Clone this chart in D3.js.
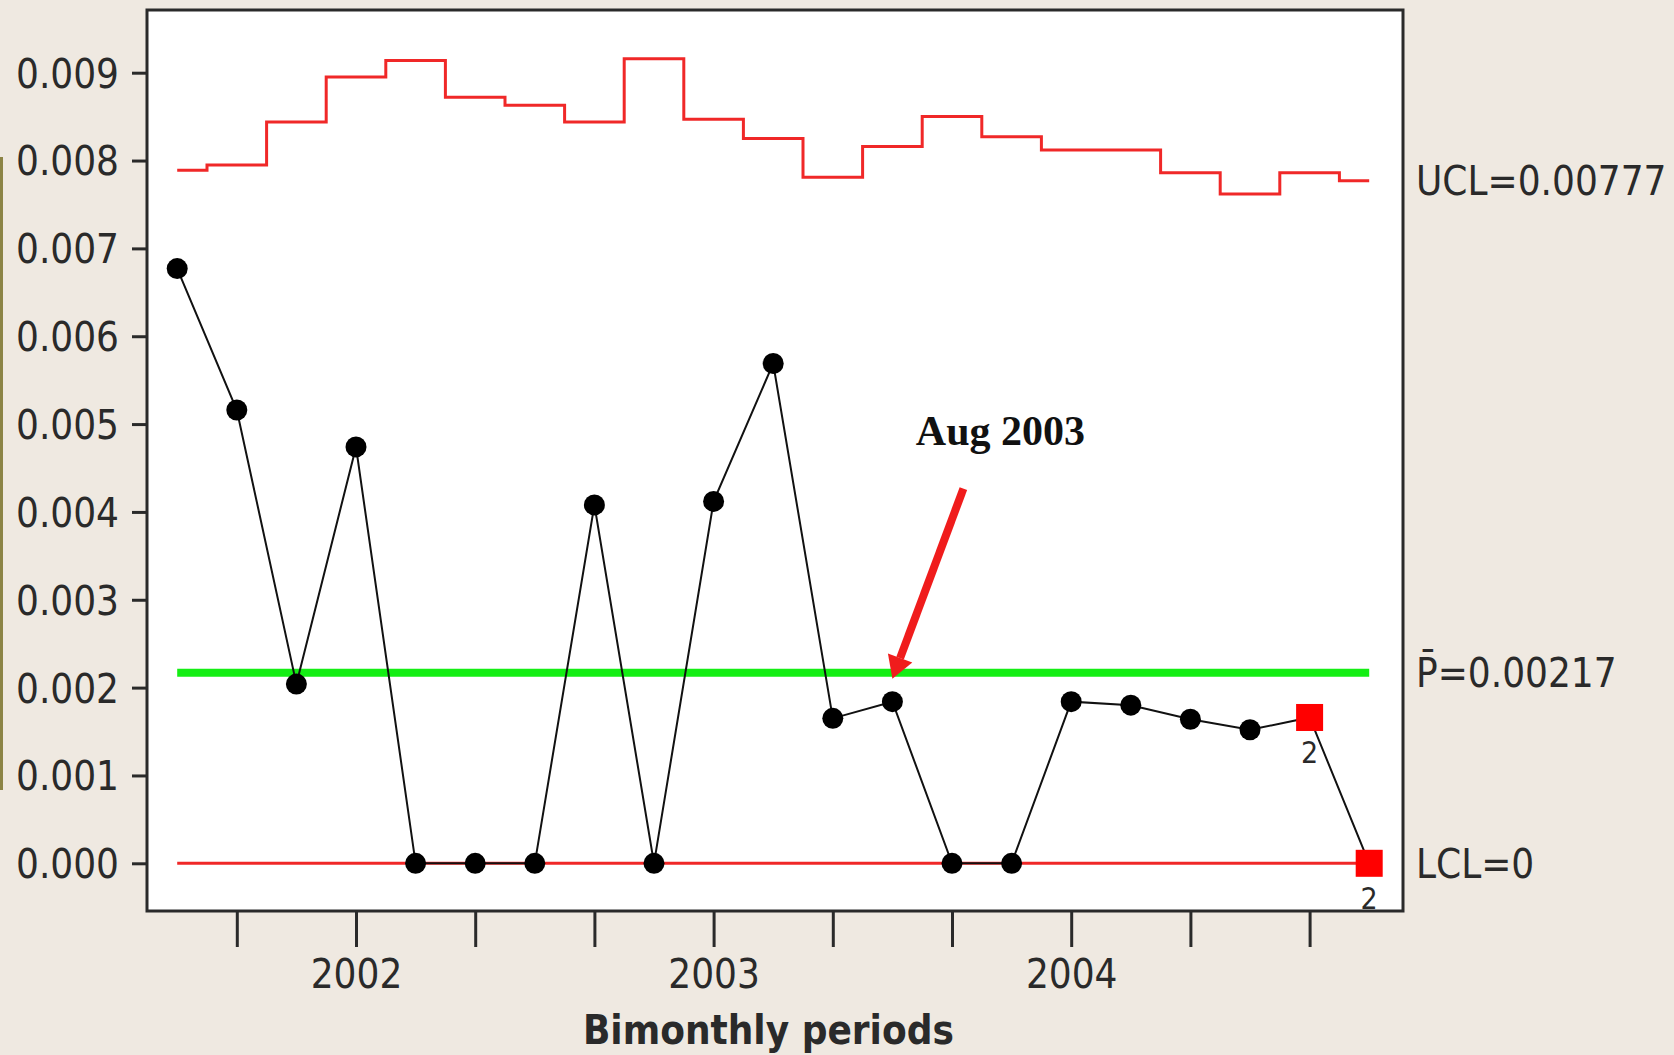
<!DOCTYPE html>
<html>
<head>
<meta charset="utf-8">
<script src="https://cdn.jsdelivr.net/npm/d3@7"></script>
<style>
  html, body { margin: 0; padding: 0; background: #efe9e1; }
  svg { display: block; }
  .lab { font-family: "DejaVu Sans Condensed", "DejaVu Sans", "Liberation Sans", sans-serif; fill: #2a2a2a; }
</style>
</head>
<body>
<script>
// ---- data ----
const periodIndex = d3.range(21);               // bimonthly periods, Jul 2001 .. Jul 2004
const proportion = [0.00677, 0.00516, 0.00204, 0.00474, 0, 0, 0, 0.00408, 0, 0.00412,
                    0.00569, 0.00165, 0.00184, 0, 0, 0.00184, 0.00180, 0.00164, 0.00152, 0.00166, 0];
const ucl = [0.00789, 0.00795, 0.00844, 0.00895, 0.00914, 0.00872, 0.00863, 0.00844, 0.00916, 0.00847,
             0.00825, 0.00781, 0.00816, 0.00850, 0.00827, 0.00812, 0.00812, 0.00786, 0.00762, 0.00786, 0.00777];
const pBar = 0.00217;
const lcl = 0;
const flagged = [19, 20];           // points failing test 2
const flagTest = ["2", "2"];
const yTicks = [0, 0.001, 0.002, 0.003, 0.004, 0.005, 0.006, 0.007, 0.008, 0.009];
const xTicks = [1, 3, 5, 7, 9, 11, 13, 15, 17, 19];
const xTickLabels = {3: "2002", 9: "2003", 15: "2004"};
const refLabels = ["UCL=0.00777", "P\u0304=0.00217", "LCL=0"];
const annotation = {text: "Aug 2003", index: 12};

// ---- layout ----
const W = 1674, H = 1055;
const frame = {left: 147, right: 1403, top: 10, bottom: 911};
const svg = d3.select("body").append("svg").attr("width", W).attr("height", H);

svg.append("rect").attr("width", W).attr("height", H).attr("fill", "#efe9e1");
// slide edge accent
svg.append("rect").attr("x", 0).attr("y", 157).attr("width", 3).attr("height", 633).attr("fill", "#8c8446");

const x = d3.scaleLinear().domain([0, 20]).range([177.2, 1369.2]);
const y = d3.scaleLinear().domain([0, 0.009]).range([863.3, 72.7]);

svg.append("rect")
  .attr("x", frame.left).attr("y", frame.top)
  .attr("width", frame.right - frame.left).attr("height", frame.bottom - frame.top)
  .attr("fill", "#ffffff").attr("stroke", "#2a2a2a").attr("stroke-width", 3);

// y axis
const yAxis = svg.append("g").attr("transform", `translate(${frame.left},0)`)
  .call(d3.axisLeft(y).tickValues(yTicks).tickFormat(d3.format(".3f")).tickSize(15).tickPadding(13).tickSizeOuter(0));
yAxis.select(".domain").remove();
yAxis.selectAll(".tick line").attr("stroke", "#2a2a2a").attr("stroke-width", 3);
yAxis.selectAll(".tick text").attr("class", "lab").attr("font-size", 40).attr("dy", "0.36em");

// x axis
const xAxis = svg.append("g").attr("transform", `translate(0,${frame.bottom})`)
  .call(d3.axisBottom(x).tickValues(xTicks).tickFormat(d => xTickLabels[d] || "").tickSize(36).tickPadding(13).tickSizeOuter(0));
xAxis.select(".domain").remove();
xAxis.selectAll(".tick line").attr("stroke", "#2a2a2a").attr("stroke-width", 3);
xAxis.selectAll(".tick text").attr("class", "lab").attr("font-size", 40);

svg.append("text").attr("class", "lab")
  .attr("x", (x(9) + x(10)) / 2 + 25).attr("y", 1044)
  .attr("text-anchor", "middle").attr("font-size", 40).attr("font-weight", "bold")
  .attr("fill", "#111").text("Bimonthly periods");

// UCL step line
svg.append("path").datum(ucl)
  .attr("d", d3.line().x((d, i) => x(i)).y(d => y(d)).curve(d3.curveStep))
  .attr("fill", "none").attr("stroke", "#f02828").attr("stroke-width", 3);

// LCL
svg.append("line").attr("x1", x(0)).attr("x2", x(20)).attr("y1", y(lcl)).attr("y2", y(lcl))
  .attr("stroke", "#f02828").attr("stroke-width", 3);

// center line
svg.append("line").attr("x1", x(0)).attr("x2", x(20)).attr("y1", y(pBar)).attr("y2", y(pBar))
  .attr("stroke", "#14ee14").attr("stroke-width", 8);

// data line
svg.append("path").datum(proportion)
  .attr("d", d3.line().x((d, i) => x(i)).y(d => y(d)))
  .attr("fill", "none").attr("stroke", "#111").attr("stroke-width", 2);

// markers
svg.append("g").selectAll("circle")
  .data(periodIndex.filter(i => !flagged.includes(i)))
  .join("circle")
  .attr("cx", i => x(i)).attr("cy", i => y(proportion[i])).attr("r", 10.5).attr("fill", "#000");

const sq = 27;
svg.append("g").selectAll("rect")
  .data(flagged).join("rect")
  .attr("x", i => x(i) - sq / 2).attr("y", i => y(proportion[i]) - sq / 2)
  .attr("width", sq).attr("height", sq).attr("fill", "#ff0000");
svg.append("g").selectAll("text")
  .data(flagged).join("text").attr("class", "lab")
  .attr("x", i => x(i)).attr("y", i => y(proportion[i]) + 46)
  .attr("text-anchor", "middle").attr("font-size", 30)
  .text((i, k) => flagTest[k]);

// right-side reference labels
const refVals = [ucl[ucl.length - 1], pBar, lcl];
svg.append("g").selectAll("text")
  .data(refLabels).join("text").attr("class", "lab")
  .attr("x", 1416).attr("y", (d, k) => y(refVals[k]))
  .attr("dy", "0.36em").attr("font-size", 40)
  .text(d => d);

// annotation arrow
const tipX = x(annotation.index), tipY = y(pBar) + 6;
const tailX = tipX + 71, tailY = tipY - 190;
const ang = Math.atan2(tipY - tailY, tipX - tailX);
const headLen = 22, headW = 13;
const bx = tipX - headLen * Math.cos(ang), by = tipY - headLen * Math.sin(ang);
svg.append("line").attr("x1", tailX).attr("y1", tailY).attr("x2", bx).attr("y2", by)
  .attr("stroke", "#f01c1c").attr("stroke-width", 8);
svg.append("path")
  .attr("d", `M${tipX},${tipY} L${bx + headW * Math.sin(ang)},${by - headW * Math.cos(ang)} L${bx - headW * Math.sin(ang)},${by + headW * Math.cos(ang)} Z`)
  .attr("fill", "#f01c1c");

svg.append("text")
  .attr("x", tipX + 108).attr("y", 445)
  .attr("text-anchor", "middle")
  .attr("font-family", "'Liberation Serif', 'Times New Roman', serif")
  .attr("font-weight", "bold").attr("font-size", 42).attr("fill", "#111")
  .text(annotation.text);
</script>
</body>
</html>
